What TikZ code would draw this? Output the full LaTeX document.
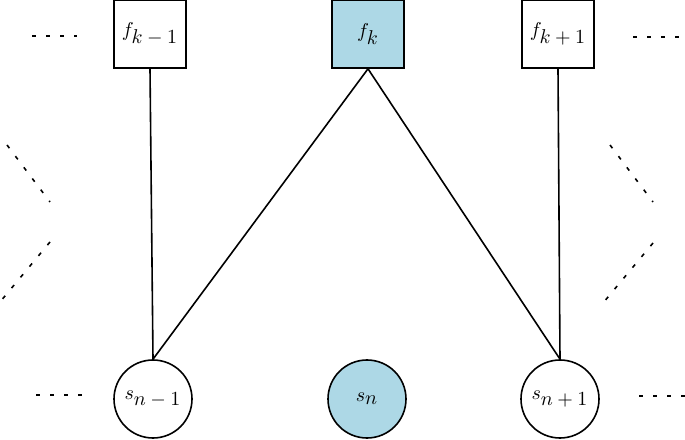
\documentclass[tikz,border=0pt]{standalone}
\usepackage{amssymb,amsmath}
\usetikzlibrary{positioning}
\definecolor{lightblue}{RGB}{173,216,230}

\begin{document}
\begin{tikzpicture}
		[x=0.5pt, y=0.5pt,
		factor/.style ={rectangle, draw=black, line width=0.8pt, fill=white, minimum width=36pt, minimum height=34pt, inner sep=0pt},
		state/.style ={circle, draw=black, line width=0.8pt, fill=white, minimum size=39pt, inner sep=0pt},
		cur/.style = {fill=lightblue},
		more/.style = {line width=0.8pt, dash pattern=on 2pt off 5pt},
		]

		\useasboundingbox (0,0) rectangle (685,439);

		\draw (150,405) node[factor] (F1) {$f_{\textstyle k-1}$};
		\draw (368,405) node[factor, cur] (F2) {$f_{\textstyle k}$};
		\draw (558,405) node[factor] (F3) {$f_{\textstyle k+1}$};
		\draw (153,40) node[state] (S1) {$s_{\textstyle n-1}$};
		\draw (367,40) node[state, cur] (S2) {$s_{\textstyle n}$};
		\draw (560,40) node[state] (S3) {$s_{\textstyle n+1}$};

		% dotted ends
		\coordinate (TL1) at (32,403);  \coordinate (TL2) at (77,403);
		\coordinate (TR1) at (633,402); \coordinate (TR2) at (685,402);
		\coordinate (BL1) at (36,44);   \coordinate (BL2) at (82,44);
		\coordinate (BR1) at (639,43);  \coordinate (BR2) at (685,43);
		\coordinate (L1) at (7,294);    \coordinate (L2) at (50,237);
		\coordinate (L3) at (50,197);   \coordinate (L4) at (0,137);
		\coordinate (R1) at (610,294);  \coordinate (R2) at (653,237);
		\coordinate (R3) at (653,196);  \coordinate (R4) at (603,136);

		\path[draw, line width=0.8pt]
		(F1.south) edge (S1.north)
		(F2.south) edge (S1.north)
		(F2.south) edge (S3.north)
		(F3.south) edge (S3.north);

		\draw[more] (TL1) -- (TL2);
		\draw[more] (TR1) -- (TR2);
		\draw[more] (BL1) -- (BL2);
		\draw[more] (BR1) -- (BR2);
		\draw[more] (L1) -- (L2);
		\draw[more] (L3) -- (L4);
		\draw[more] (R1) -- (R2);
		\draw[more] (R3) -- (R4);
	\end{tikzpicture}
\end{document}
